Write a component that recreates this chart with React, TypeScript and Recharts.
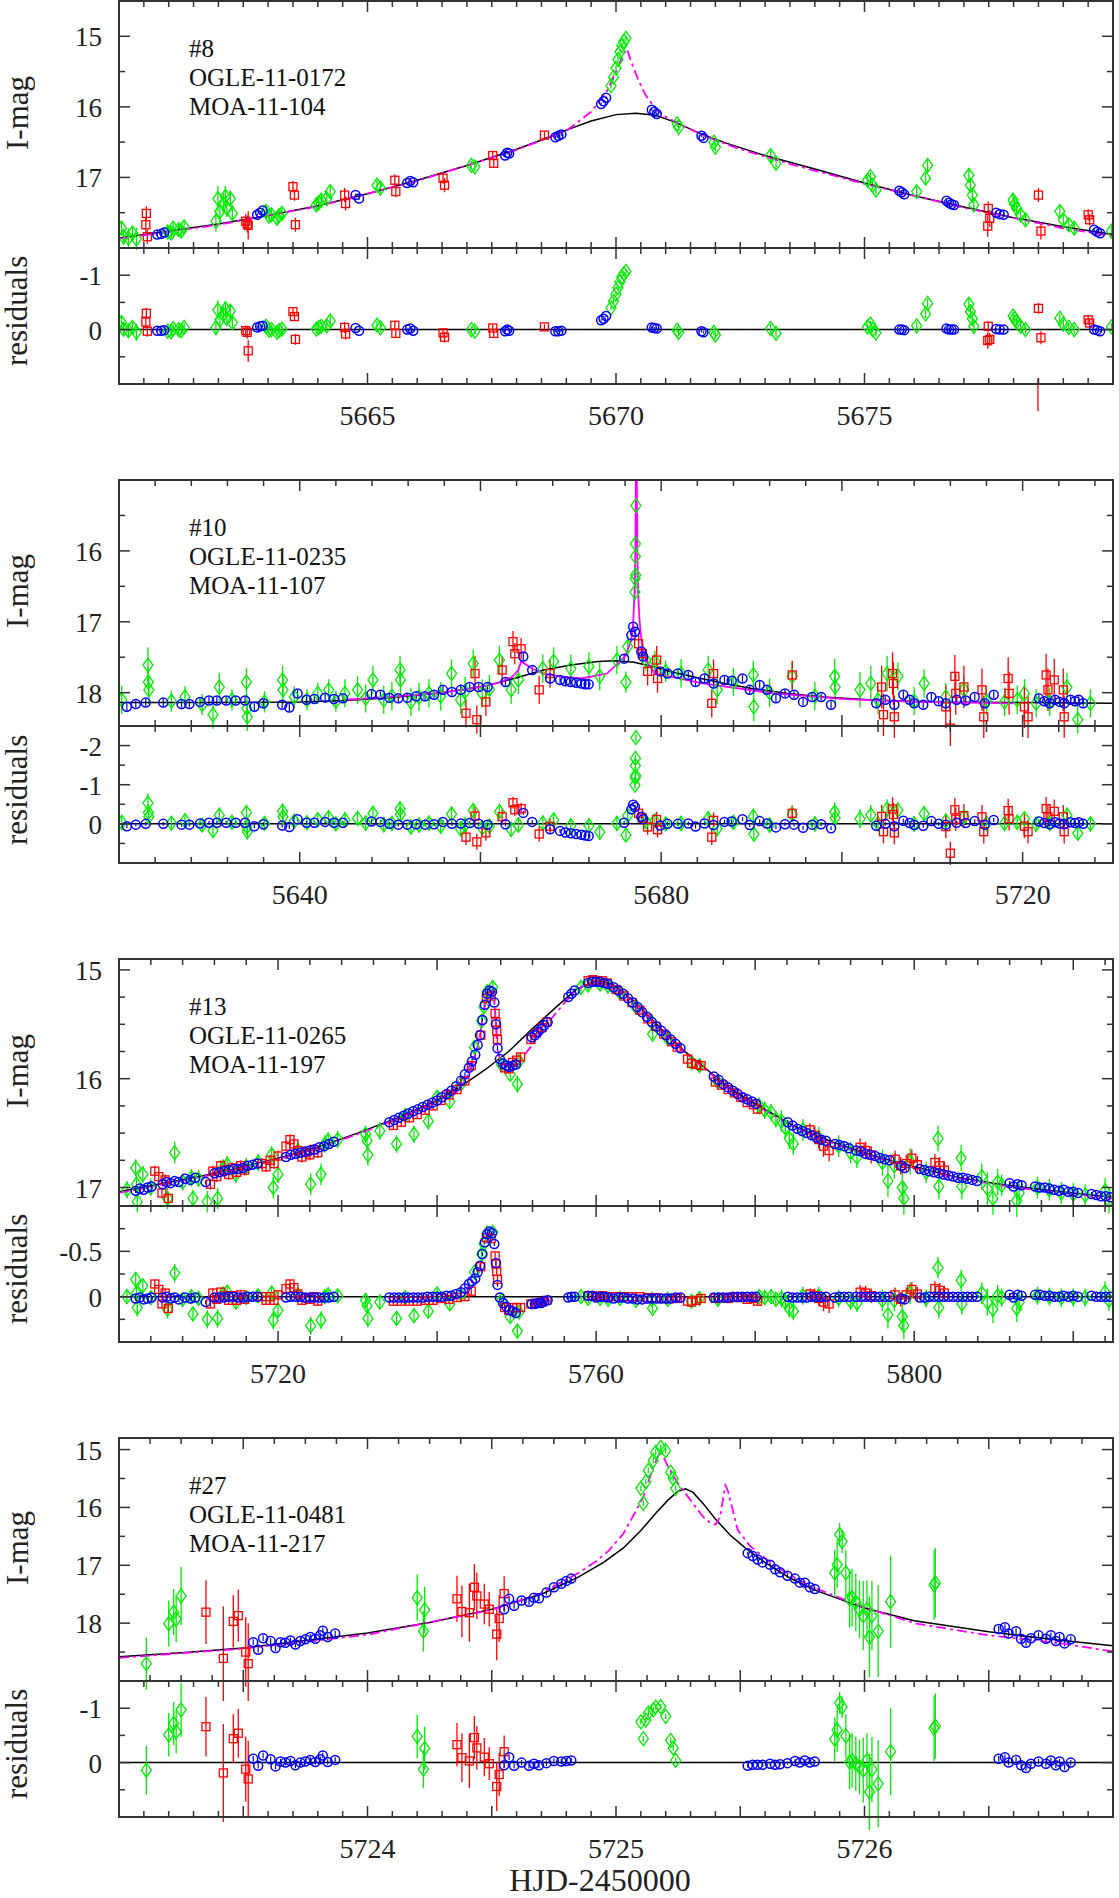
import React from "react";
import {
  ComposedChart,
  Scatter,
  Line,
  XAxis,
  YAxis,
  ErrorBar,
  ReferenceLine,
} from "recharts";

// rows: [HJD-2450000, I mag, residual, error]
type Row = [number, number, number, number];
// model curve: [HJD-2450000, I mag]
type Pt = [number, number];

// ---------- #8 ----------
const P1_MOA: Row[] = [
  [5660.05, 17.72, -0.13, 0.1], [5660.09, 17.84, -0.01, 0.12], [5660.19, 17.86, 0.02, 0.14],
  [5660.27, 17.79, -0.04, 0.1], [5660.35, 17.87, 0.05, 0.16], [5660.98, 17.77, 0.03, 0.08],
  [5661.05, 17.79, 0.04, 0.08], [5661.09, 17.72, -0.02, 0.08], [5661.2, 17.74, 0.0, 0.08],
  [5661.25, 17.76, 0.02, 0.08], [5661.31, 17.7, -0.04, 0.08], [5661.95, 17.62, -0.04, 0.15],
  [5661.99, 17.3, -0.36, 0.18], [5662.03, 17.48, -0.18, 0.15], [5662.1, 17.37, -0.28, 0.15],
  [5662.14, 17.27, -0.38, 0.15], [5662.17, 17.44, -0.2, 0.12], [5662.24, 17.3, -0.34, 0.12],
  [5662.28, 17.51, -0.13, 0.12], [5662.96, 17.48, -0.06, 0.08], [5663.02, 17.55, 0.01, 0.08],
  [5663.07, 17.53, 0.0, 0.08], [5663.18, 17.58, 0.05, 0.08], [5663.22, 17.54, 0.02, 0.08],
  [5663.28, 17.51, -0.01, 0.08], [5663.97, 17.39, -0.01, 0.08], [5664.02, 17.36, -0.04, 0.08],
  [5664.07, 17.32, -0.06, 0.08], [5664.18, 17.3, -0.07, 0.1], [5664.25, 17.2, -0.16, 0.1],
  [5665.19, 17.11, -0.08, 0.08], [5665.26, 17.15, -0.03, 0.08], [5667.09, 16.83, 0.0, 0.06],
  [5667.16, 16.85, 0.03, 0.06], [5669.9, 15.7, -0.4, 0.04], [5669.95, 15.58, -0.52, 0.04],
  [5670.0, 15.45, -0.65, 0.04], [5670.04, 15.33, -0.77, 0.04], [5670.08, 15.22, -0.88, 0.04],
  [5670.12, 15.13, -0.97, 0.04], [5670.16, 15.07, -1.03, 0.04], [5670.2, 15.03, -1.07, 0.04],
  [5671.23, 16.24, 0.01, 0.05], [5671.26, 16.29, 0.05, 0.05], [5671.97, 16.5, 0.05, 0.06],
  [5672.0, 16.57, 0.1, 0.06], [5673.11, 16.69, -0.02, 0.08], [5673.22, 16.8, 0.07, 0.08],
  [5675.06, 17.04, -0.05, 0.06], [5675.12, 16.99, -0.1, 0.06], [5675.16, 17.11, 0.0, 0.06],
  [5675.23, 17.18, 0.06, 0.06], [5676.05, 17.2, -0.07, 0.07], [5676.23, 17.01, -0.29, 0.08],
  [5676.27, 16.83, -0.48, 0.08], [5677.1, 16.97, -0.47, 0.1], [5677.13, 17.11, -0.33, 0.1],
  [5677.17, 17.25, -0.2, 0.1], [5677.2, 17.39, -0.06, 0.1], [5677.99, 17.32, -0.25, 0.08],
  [5678.02, 17.38, -0.2, 0.08], [5678.06, 17.44, -0.14, 0.08], [5678.14, 17.53, -0.06, 0.08],
  [5678.24, 17.6, 0.0, 0.08], [5678.93, 17.48, -0.21, 0.08], [5679.0, 17.6, -0.1, 0.08],
  [5679.11, 17.67, -0.04, 0.08], [5679.22, 17.72, 0.0, 0.08], [5679.97, 17.76, -0.05, 0.08],
];
const P1_OGLE: Row[] = [
  [5660.55, 17.51, -0.3, 0.1], [5660.54, 17.67, -0.14, 0.1], [5660.57, 17.84, 0.03, 0.1],
  [5662.55, 17.62, 0.02, 0.1], [5662.58, 17.66, 0.05, 0.12], [5662.6, 17.68, 0.39, 0.2],
  [5663.5, 17.13, -0.33, 0.08], [5663.53, 17.25, -0.24, 0.08], [5663.55, 17.67, 0.18, 0.1],
  [5664.54, 17.25, -0.04, 0.1], [5664.56, 17.37, 0.08, 0.1], [5665.55, 17.04, -0.08, 0.08],
  [5665.57, 17.2, 0.07, 0.08], [5666.52, 17.01, 0.06, 0.08], [5666.55, 17.11, 0.14, 0.1],
  [5667.52, 16.69, -0.03, 0.06], [5667.54, 16.8, 0.07, 0.06], [5668.56, 16.4, -0.05, 0.05],
  [5677.49, 17.44, -0.06, 0.1], [5677.52, 17.58, 0.18, 0.12], [5677.48, 17.69, 0.2, 0.15],
  [5678.5, 17.25, -0.39, 0.1], [5678.55, 17.76, 0.15, 0.12], [5678.49, 18.8, 1.2, 0.3],
  [5679.5, 17.53, -0.18, 0.08], [5679.53, 17.6, -0.12, 0.08],
];
const P1_BLUE: Row[] = [
  [5660.77, 17.81, 0.02, 0.02], [5660.85, 17.8, 0.02, 0.02], [5660.91, 17.78, 0.01, 0.02],
  [5662.78, 17.53, -0.04, 0.02], [5662.84, 17.5, -0.06, 0.02], [5662.89, 17.47, -0.07, 0.02],
  [5664.76, 17.25, -0.03, 0.02], [5664.83, 17.3, 0.02, 0.02], [5665.8, 17.08, 0.0, 0.02],
  [5665.86, 17.05, -0.02, 0.02], [5665.92, 17.07, 0.02, 0.02], [5667.77, 16.69, 0.03, 0.02],
  [5667.81, 16.65, 0.0, 0.02], [5667.85, 16.66, 0.02, 0.02], [5668.78, 16.43, 0.03, 0.02],
  [5668.84, 16.41, 0.03, 0.02], [5668.9, 16.39, 0.02, 0.02], [5669.7, 15.96, -0.17, 0.02],
  [5669.75, 15.92, -0.2, 0.02], [5669.8, 15.87, -0.25, 0.02], [5670.72, 16.04, -0.04, 0.02],
  [5670.77, 16.07, -0.03, 0.02], [5670.82, 16.1, -0.02, 0.02], [5671.72, 16.41, 0.03, 0.02],
  [5671.76, 16.44, 0.05, 0.02], [5675.7, 17.19, 0.0, 0.02], [5675.75, 17.21, 0.0, 0.02],
  [5675.8, 17.24, 0.01, 0.02], [5676.65, 17.33, -0.02, 0.02], [5676.7, 17.36, 0.0, 0.02],
  [5676.75, 17.38, 0.0, 0.02], [5676.8, 17.39, 0.0, 0.02], [5677.65, 17.5, -0.01, 0.02],
  [5677.72, 17.52, 0.0, 0.02], [5677.8, 17.53, 0.0, 0.02], [5679.62, 17.74, 0.0, 0.02],
  [5679.68, 17.77, 0.01, 0.02], [5679.74, 17.79, 0.03, 0.02],
];
const P1_SINGLE: Pt[] = [
  [5660, 17.86], [5661, 17.76], [5662, 17.66], [5663, 17.54], [5664, 17.4], [5665, 17.23],
  [5666, 17.04], [5667, 16.83], [5668, 16.6], [5668.5, 16.47], [5669, 16.33], [5669.5, 16.2],
  [5670, 16.11], [5670.4, 16.09], [5670.8, 16.12], [5671.2, 16.22], [5671.7, 16.38],
  [5672.2, 16.51], [5673, 16.69], [5674, 16.88], [5675, 17.08], [5676, 17.26], [5677, 17.42],
  [5678, 17.57], [5679, 17.7], [5680, 17.81],
];
const P1_BINARY: Pt[] = [
  [5660, 17.87], [5662, 17.67], [5664, 17.41], [5666, 17.05], [5668, 16.61], [5669, 16.34],
  [5669.5, 16.07], [5669.8, 15.8], [5670, 15.5], [5670.15, 15.25], [5670.22, 15.18],
  [5670.3, 15.35], [5670.45, 15.62], [5670.6, 15.84], [5670.8, 16.03], [5671, 16.14],
  [5671.3, 16.25], [5671.8, 16.42], [5672.5, 16.6], [5673.5, 16.81], [5675, 17.09],
  [5677, 17.43], [5679, 17.72], [5680, 17.83],
];

// ---------- #10 ----------
const P2_MOA: Row[] = [
  [5620.3, 18.1, -0.04, 0.2], [5623.2, 17.61, -0.53, 0.25], [5623.25, 17.85, -0.29, 0.2],
  [5623.3, 17.96, -0.18, 0.2], [5625.8, 18.12, -0.02, 0.15], [5627.3, 18.06, -0.08, 0.15],
  [5629.2, 18.17, 0.03, 0.15], [5630.4, 18.31, 0.17, 0.2], [5631.1, 17.92, -0.22, 0.2],
  [5632.5, 18.1, -0.04, 0.15], [5634.1, 17.85, -0.29, 0.2], [5634.15, 18.22, 0.08, 0.2],
  [5634.2, 18.34, 0.2, 0.2], [5636.1, 18.13, -0.01, 0.15], [5638.1, 17.82, -0.32, 0.2],
  [5638.15, 17.96, -0.18, 0.2], [5639.4, 18.06, -0.07, 0.15], [5640.8, 18.1, -0.03, 0.15],
  [5642.0, 18.01, -0.11, 0.15], [5643.2, 17.96, -0.16, 0.15], [5644.0, 18.12, 0.0, 0.15],
  [5645.0, 18.01, -0.1, 0.2], [5646.4, 17.96, -0.14, 0.2], [5647.3, 18.08, -0.02, 0.2],
  [5648.1, 17.82, -0.27, 0.2], [5649.3, 18.1, 0.02, 0.2], [5650.2, 18.05, -0.01, 0.2],
  [5651.1, 17.68, -0.38, 0.2], [5651.15, 17.82, -0.24, 0.2], [5652.3, 18.13, 0.08, 0.2],
  [5653.2, 18.06, 0.03, 0.2], [5654.3, 18.01, -0.02, 0.2], [5655.6, 18.05, 0.06, 0.2],
  [5656.8, 17.73, -0.25, 0.2], [5657.8, 18.1, 0.13, 0.2], [5658.3, 17.98, 0.03, 0.2],
  [5659.2, 17.59, -0.34, 0.2], [5660.2, 18.01, 0.1, 0.2], [5661.0, 17.95, 0.06, 0.2],
  [5662.1, 17.54, -0.31, 0.2], [5663.4, 17.96, 0.14, 0.2], [5664.2, 17.82, 0.03, 0.2],
  [5666.9, 17.66, -0.02, 0.2], [5668.1, 17.56, -0.1, 0.2], [5670.0, 17.66, 0.05, 0.2],
  [5672.0, 17.63, 0.05, 0.2], [5673.2, 17.77, 0.21, 0.2], [5675.1, 17.54, -0.01, 0.2],
  [5676.1, 17.85, 0.29, 0.15], [5676.3, 17.35, -0.21, 0.15], [5677.1, 16.58, -0.99, 0.1],
  [5677.12, 16.39, -1.18, 0.1], [5677.14, 16.08, -1.49, 0.1], [5677.15, 15.9, -1.67, 0.1],
  [5677.17, 16.34, -1.23, 0.1], [5677.2, 15.36, -2.2, 0.1], [5678.3, 17.54, -0.06, 0.15],
  [5679.3, 17.56, -0.08, 0.15], [5680.5, 17.7, 0.0, 0.15], [5682.2, 17.73, -0.01, 0.2],
  [5685.2, 17.68, -0.13, 0.2], [5686.2, 17.96, 0.12, 0.2], [5688.0, 17.85, -0.04, 0.2],
  [5690.2, 17.75, -0.19, 0.2], [5690.25, 18.2, 0.26, 0.2], [5692.0, 18.0, 0.03, 0.2],
  [5694.5, 17.77, -0.24, 0.2], [5697.0, 18.05, 0.0, 0.2], [5699.2, 17.77, -0.3, 0.25],
  [5699.25, 17.92, -0.15, 0.25], [5702.0, 17.96, -0.13, 0.25], [5703.2, 17.87, -0.23, 0.25],
  [5704.0, 18.1, 0.0, 0.2], [5705.0, 17.73, -0.38, 0.25], [5706.2, 17.77, -0.35, 0.2],
  [5708.0, 18.12, 0.0, 0.2], [5709.1, 17.87, -0.26, 0.2], [5711.5, 18.06, -0.07, 0.2],
  [5713.5, 17.96, -0.18, 0.2], [5716.0, 18.12, -0.01, 0.2], [5718.0, 18.13, -0.01, 0.2],
  [5719.4, 18.1, -0.04, 0.2], [5720.2, 18.01, -0.13, 0.2], [5721.5, 18.15, 0.01, 0.2],
  [5723.0, 18.13, -0.01, 0.2], [5724.9, 17.92, -0.22, 0.2], [5726.1, 18.38, 0.24, 0.2],
  [5727.5, 18.15, 0.0, 0.2],
];
const P2_OGLE: Row[] = [
  [5658.4, 18.29, 0.34, 0.2], [5659.4, 17.73, -0.2, 0.25], [5659.6, 18.38, 0.46, 0.2],
  [5660.6, 18.13, 0.23, 0.2], [5662.4, 17.68, -0.18, 0.2], [5663.6, 17.28, -0.54, 0.15],
  [5663.8, 17.45, -0.36, 0.15], [5664.5, 17.38, -0.39, 0.15], [5666.5, 17.96, 0.26, 0.2],
  [5667.7, 17.73, 0.06, 0.2], [5677.5, 17.31, -0.27, 0.15], [5677.9, 17.45, -0.15, 0.15],
  [5678.5, 17.7, 0.08, 0.2], [5679.5, 17.54, -0.11, 0.2], [5679.6, 17.8, 0.15, 0.2],
  [5685.6, 18.15, 0.34, 0.2], [5685.8, 17.73, -0.09, 0.2], [5694.5, 17.75, -0.27, 0.2],
  [5704.4, 17.92, -0.19, 0.3], [5704.6, 18.31, 0.2, 0.3], [5705.6, 17.73, -0.38, 0.3],
  [5705.7, 17.87, -0.24, 0.3], [5705.8, 18.34, 0.23, 0.3], [5711.5, 18.2, 0.07, 0.3],
  [5712.0, 18.5, 0.75, 0.3], [5712.5, 17.77, -0.36, 0.3], [5712.6, 18.01, -0.12, 0.3],
  [5713.5, 17.92, -0.21, 0.3], [5715.5, 17.96, -0.18, 0.3], [5715.7, 18.34, 0.2, 0.3],
  [5718.4, 17.8, -0.34, 0.3], [5718.5, 18.01, -0.13, 0.3], [5720.2, 18.2, 0.06, 0.3],
  [5720.6, 18.34, 0.2, 0.3], [5722.6, 17.75, -0.39, 0.3], [5722.8, 17.96, -0.18, 0.3],
  [5723.5, 17.82, -0.32, 0.3], [5724.5, 17.96, -0.18, 0.3], [5724.6, 18.34, 0.2, 0.3],
];
const P2_BLUE: Row[] = [
  [5620.87, 18.2, 0.06, 0.05], [5621.86, 18.16, 0.02, 0.05], [5622.96, 18.14, 0.0, 0.05],
  [5624.9, 18.14, 0.0, 0.05], [5626.92, 18.16, 0.02, 0.05], [5627.79, 18.16, 0.02, 0.05],
  [5628.97, 18.13, -0.01, 0.05], [5629.96, 18.11, -0.03, 0.05], [5630.83, 18.11, -0.03, 0.05],
  [5631.86, 18.11, -0.03, 0.05], [5632.92, 18.11, -0.03, 0.05], [5633.95, 18.11, -0.03, 0.05],
  [5634.98, 18.2, 0.06, 0.05], [5635.97, 18.15, 0.01, 0.05], [5638.06, 18.17, 0.04, 0.05],
  [5638.85, 18.21, 0.08, 0.05], [5639.76, 18.01, -0.12, 0.05], [5640.75, 18.1, -0.03, 0.05],
  [5641.62, 18.09, -0.03, 0.05], [5642.81, 18.07, -0.05, 0.05], [5643.79, 18.09, -0.03, 0.05],
  [5644.78, 18.08, -0.03, 0.05], [5647.94, 18.02, -0.06, 0.05], [5648.93, 18.03, -0.05, 0.05],
  [5649.92, 18.07, 0.0, 0.05], [5650.91, 18.08, 0.02, 0.05], [5651.9, 18.07, 0.02, 0.05],
  [5652.89, 18.05, 0.01, 0.05], [5653.87, 18.05, 0.02, 0.05], [5654.86, 18.03, 0.01, 0.05],
  [5655.85, 17.96, -0.05, 0.05], [5656.84, 17.99, 0.0, 0.05], [5657.83, 17.96, -0.01, 0.05],
  [5658.81, 17.92, -0.02, 0.05], [5659.8, 17.92, 0.0, 0.05], [5660.79, 17.92, 0.02, 0.05],
  [5662.77, 17.85, 0.01, 0.05], [5664.74, 17.49, -0.28, 0.05], [5665.73, 17.68, -0.05, 0.05],
  [5667.71, 17.8, 0.14, 0.05], [5668.81, 17.82, 0.18, 0.05], [5669.4, 17.84, 0.22, 0.05],
  [5670.0, 17.85, 0.24, 0.05], [5670.6, 17.86, 0.26, 0.05], [5671.18, 17.87, 0.28, 0.05],
  [5671.6, 17.88, 0.3, 0.05], [5671.97, 17.88, 0.31, 0.05], [5675.9, 17.52, -0.03, 0.05],
  [5676.7, 17.19, -0.37, 0.05], [5676.9, 17.07, -0.49, 0.05], [5677.1, 17.14, -0.43, 0.05],
  [5677.8, 17.42, -0.18, 0.05], [5678.0, 17.49, -0.12, 0.05], [5679.9, 17.7, 0.04, 0.05],
  [5680.7, 17.73, 0.0, 0.05], [5681.85, 17.73, 0.0, 0.05], [5683.0, 17.75, -0.01, 0.05],
  [5683.8, 17.85, 0.07, 0.05], [5684.8, 17.8, -0.01, 0.05], [5685.8, 17.87, 0.03, 0.05],
  [5687.0, 17.82, -0.05, 0.05], [5687.8, 17.83, -0.06, 0.05], [5689.0, 17.8, -0.12, 0.05],
  [5689.8, 17.96, 0.03, 0.05], [5690.9, 17.89, -0.07, 0.05], [5691.7, 17.96, -0.01, 0.05],
  [5692.7, 18.08, 0.09, 0.05], [5693.7, 18.01, 0.01, 0.05], [5694.7, 18.03, 0.02, 0.05],
  [5695.7, 18.13, 0.1, 0.05], [5696.7, 18.06, 0.02, 0.05], [5697.7, 18.06, 0.01, 0.05],
  [5698.8, 18.17, 0.11, 0.05], [5703.8, 18.15, 0.05, 0.05], [5704.8, 18.1, 0.0, 0.05],
  [5705.8, 18.17, 0.06, 0.05], [5706.8, 18.03, -0.08, 0.05], [5707.5, 18.1, -0.02, 0.05],
  [5708.0, 18.15, 0.03, 0.05], [5709.0, 18.17, 0.05, 0.05], [5709.9, 18.06, -0.07, 0.05],
  [5710.7, 18.12, 0.0, 0.05], [5711.5, 18.15, 0.02, 0.05], [5712.7, 18.1, -0.03, 0.05],
  [5713.7, 18.11, -0.02, 0.05], [5714.7, 18.06, -0.07, 0.05], [5715.8, 18.15, 0.02, 0.05],
  [5716.8, 18.03, -0.1, 0.05], [5721.8, 18.08, -0.06, 0.05], [5722.4, 18.12, -0.02, 0.05],
  [5723.0, 18.15, 0.01, 0.05], [5723.6, 18.1, -0.04, 0.05], [5724.1, 18.13, -0.01, 0.05],
  [5724.6, 18.15, 0.01, 0.05], [5725.3, 18.1, -0.04, 0.05], [5725.8, 18.12, -0.02, 0.05],
  [5726.2, 18.1, -0.04, 0.05], [5726.7, 18.15, 0.0, 0.05],
];
const P2_SINGLE: Pt[] = [
  [5620, 18.14], [5630, 18.14], [5640, 18.13], [5645, 18.11], [5650, 18.07], [5655, 18.01],
  [5658, 17.96], [5661, 17.89], [5664, 17.79], [5667, 17.68], [5670, 17.61], [5673, 17.56],
  [5675, 17.55], [5677, 17.57], [5679, 17.63], [5681, 17.7], [5684, 17.79], [5687, 17.87],
  [5690, 17.94], [5694, 18.01], [5698, 18.06], [5703, 18.1], [5710, 18.13], [5720, 18.14],
  [5730, 18.15],
];
const P2_BINARY: Pt[] = [
  [5645, 18.1], [5650, 18.06], [5655, 18.01], [5658, 17.96], [5660, 17.92], [5662, 17.86],
  [5663.5, 17.78], [5664.2, 17.68], [5664.5, 17.56], [5665.7, 17.66], [5667, 17.73],
  [5668.8, 17.77], [5671.2, 17.8], [5674, 17.73], [5676, 17.49], [5676.7, 17.26],
  [5676.9, 17.02], [5677.05, 16.6], [5677.15, 16.0], [5677.22, 14.5], [5677.28, 14.5],
  [5677.36, 16.0], [5677.45, 16.6], [5677.6, 16.97], [5677.75, 17.18], [5678.0, 17.4],
  [5678.3, 17.54], [5679.3, 17.73], [5684.6, 17.87], [5692.5, 18.01], [5700.4, 18.09],
  [5708.3, 18.13], [5719, 18.15],
];

// ---------- #13 ----------
const P3_MOA: Row[] = [
  [5701.0, 17.02, 0.0, 0.08], [5702.1, 16.82, -0.19, 0.08], [5702.2, 16.97, -0.04, 0.08],
  [5702.3, 17.13, 0.12, 0.1], [5703.0, 16.88, -0.12, 0.08], [5704.0, 17.0, 0.01, 0.08],
  [5706.1, 17.1, 0.14, 0.1], [5707.0, 16.68, -0.26, 0.1], [5708.0, 16.95, 0.03, 0.08],
  [5709.1, 16.91, 0.0, 0.08], [5709.3, 17.1, 0.19, 0.08], [5710.0, 16.92, 0.02, 0.08],
  [5711.1, 17.13, 0.25, 0.1], [5712.4, 17.1, 0.24, 0.1], [5713.1, 16.82, -0.03, 0.08],
  [5713.6, 16.79, -0.05, 0.08], [5714.7, 16.88, 0.06, 0.08], [5716.0, 16.81, 0.01, 0.08],
  [5717.5, 16.77, -0.01, 0.08], [5719.2, 16.7, -0.04, 0.08], [5719.4, 17.0, 0.26, 0.1],
  [5720.0, 16.88, 0.15, 0.08], [5722.5, 16.66, -0.02, 0.08], [5724.1, 16.97, 0.32, 0.1],
  [5725.4, 16.88, 0.26, 0.1], [5725.9, 16.6, 0.0, 0.08], [5726.3, 16.57, -0.02, 0.08],
  [5727.5, 16.56, -0.01, 0.08], [5731.0, 16.51, 0.04, 0.08], [5731.2, 16.57, 0.1, 0.08],
  [5731.3, 16.7, 0.24, 0.1], [5732.8, 16.48, 0.06, 0.08], [5734.9, 16.6, 0.24, 0.08],
  [5736.0, 16.34, 0.01, 0.06], [5737.1, 16.51, 0.21, 0.08], [5738.9, 16.39, 0.16, 0.08],
  [5740.0, 16.17, -0.03, 0.06], [5741.6, 16.21, 0.08, 0.06], [5743.0, 16.05, -0.02, 0.06],
  [5744.7, 15.71, -0.27, 0.05], [5745.6, 15.47, -0.47, 0.05], [5745.9, 15.34, -0.58, 0.05],
  [5746.3, 15.2, -0.7, 0.05], [5747.0, 15.16, -0.71, 0.05], [5748.1, 15.87, 0.04, 0.05],
  [5749.2, 15.96, 0.22, 0.06], [5750.1, 16.05, 0.38, 0.08], [5750.3, 15.84, 0.17, 0.06],
  [5758.1, 15.16, 0.0, 0.05], [5759.0, 15.14, 0.02, 0.05], [5760.5, 15.13, 0.02, 0.05],
  [5761.5, 15.15, 0.03, 0.05], [5763.0, 15.21, 0.02, 0.05], [5765.0, 15.34, 0.04, 0.05],
  [5767.0, 15.48, 0.03, 0.05], [5767.1, 15.59, 0.13, 0.05], [5769.0, 15.63, 0.03, 0.05],
  [5772.0, 15.85, 0.05, 0.06], [5773.0, 15.88, 0.02, 0.06], [5775.3, 16.03, 0.03, 0.06],
  [5780.5, 16.25, 0.0, 0.08], [5781.2, 16.29, 0.01, 0.08], [5782.0, 16.31, 0.0, 0.08],
  [5782.6, 16.37, 0.03, 0.08], [5783.3, 16.39, 0.02, 0.1], [5783.8, 16.45, 0.06, 0.1],
  [5784.3, 16.55, 0.13, 0.1], [5784.8, 16.6, 0.16, 0.1], [5786.0, 16.47, -0.01, 0.1],
  [5788.0, 16.54, -0.01, 0.1], [5790.5, 16.62, 0.02, 0.1], [5792.0, 16.68, 0.05, 0.1],
  [5792.8, 16.72, 0.07, 0.1], [5796.0, 16.77, 0.04, 0.12], [5796.7, 16.94, 0.2, 0.15],
  [5797.5, 16.8, 0.04, 0.12], [5798.5, 17.0, 0.22, 0.15], [5798.7, 17.1, 0.32, 0.15],
  [5799.5, 16.76, -0.04, 0.12], [5801.5, 16.86, 0.02, 0.1], [5803.0, 16.55, -0.32, 0.12],
  [5803.1, 16.99, 0.12, 0.12], [5805.9, 16.73, -0.18, 0.12], [5806.0, 16.99, 0.08, 0.12],
  [5808.5, 16.9, -0.04, 0.12], [5809.2, 17.01, 0.06, 0.15], [5809.9, 17.1, 0.14, 0.15],
  [5810.5, 16.95, -0.01, 0.12], [5811.0, 16.98, 0.01, 0.1], [5812.9, 17.12, 0.13, 0.15],
  [5813.2, 17.05, 0.06, 0.12], [5815.5, 17.0, -0.01, 0.1], [5817.0, 17.02, 0.0, 0.1],
  [5818.5, 17.05, 0.01, 0.1], [5820.0, 17.06, 0.01, 0.1], [5821.5, 17.07, 0.01, 0.1],
  [5824.0, 17.03, -0.05, 0.12], [5824.5, 17.12, 0.04, 0.12],
];
const P3_OGLE: Row[] = [
  [5704.5, 16.85, -0.14, 0.05], [5705.0, 16.9, -0.08, 0.05], [5705.4, 17.05, 0.08, 0.05],
  [5705.8, 16.93, -0.04, 0.05], [5706.2, 17.1, 0.13, 0.05], [5711.5, 16.97, 0.08, 0.05],
  [5711.8, 16.85, -0.04, 0.05], [5712.3, 16.9, 0.03, 0.05], [5712.8, 16.8, -0.05, 0.05],
  [5713.3, 16.84, -0.01, 0.05], [5713.8, 16.88, 0.04, 0.05], [5714.3, 16.82, -0.01, 0.05],
  [5714.8, 16.86, 0.04, 0.05], [5715.3, 16.8, -0.02, 0.05], [5715.8, 16.84, 0.03, 0.05],
  [5718.0, 16.78, 0.0, 0.05], [5718.5, 16.81, 0.04, 0.05], [5719.0, 16.75, 0.0, 0.05],
  [5719.5, 16.78, 0.04, 0.05], [5720.0, 16.71, -0.02, 0.05], [5721.0, 16.62, -0.09, 0.05],
  [5721.5, 16.56, -0.14, 0.05], [5722.0, 16.6, -0.1, 0.05], [5722.5, 16.66, -0.03, 0.05],
  [5723.0, 16.72, 0.04, 0.05], [5723.5, 16.68, 0.01, 0.05], [5724.0, 16.7, 0.03, 0.05],
  [5724.5, 16.65, 0.0, 0.05], [5725.0, 16.68, 0.05, 0.05], [5734.5, 16.43, 0.05, 0.04],
  [5735.5, 16.4, 0.05, 0.04], [5736.5, 16.36, 0.05, 0.04], [5737.5, 16.33, 0.05, 0.04],
  [5738.5, 16.29, 0.04, 0.04], [5739.5, 16.25, 0.04, 0.04], [5740.5, 16.2, 0.02, 0.04],
  [5741.5, 16.15, 0.03, 0.04], [5742.5, 16.1, 0.01, 0.04], [5743.5, 16.02, 0.0, 0.04],
  [5744.3, 15.88, -0.06, 0.04], [5745.5, 15.6, -0.33, 0.04], [5746.2, 15.26, -0.65, 0.04],
  [5746.8, 15.24, -0.64, 0.04], [5747.3, 15.4, -0.45, 0.04], [5747.4, 15.48, -0.36, 0.04],
  [5747.5, 15.56, -0.28, 0.04], [5747.6, 15.64, -0.19, 0.04], [5748.5, 15.9, 0.12, 0.04],
  [5749.0, 15.91, 0.15, 0.04], [5749.5, 15.85, 0.12, 0.04], [5750.0, 15.83, 0.12, 0.04],
  [5750.5, 15.8, 0.12, 0.04], [5751.8, 15.64, 0.08, 0.04], [5752.5, 15.58, 0.07, 0.04],
  [5753.2, 15.53, 0.06, 0.04], [5753.8, 15.48, 0.04, 0.04], [5759.0, 15.1, -0.01, 0.03],
  [5759.6, 15.09, -0.01, 0.03], [5760.2, 15.1, 0.0, 0.03], [5760.8, 15.1, -0.01, 0.03],
  [5761.4, 15.12, 0.0, 0.03], [5762.5, 15.18, 0.0, 0.03], [5763.5, 15.24, 0.0, 0.03],
  [5764.5, 15.3, 0.0, 0.03], [5765.5, 15.37, 0.0, 0.03], [5766.5, 15.45, 0.01, 0.03],
  [5767.5, 15.52, 0.01, 0.03], [5768.5, 15.59, 0.02, 0.03], [5769.5, 15.66, 0.02, 0.03],
  [5770.2, 15.71, 0.02, 0.03], [5771.5, 15.82, 0.05, 0.04], [5772.0, 15.86, 0.06, 0.04],
  [5772.6, 15.87, 0.04, 0.04], [5773.2, 15.88, 0.02, 0.04], [5775.0, 16.03, 0.02, 0.04],
  [5775.8, 16.06, 0.01, 0.04], [5776.6, 16.1, 0.02, 0.04], [5777.4, 16.13, 0.01, 0.04],
  [5778.2, 16.17, 0.01, 0.04], [5779.0, 16.22, 0.03, 0.04], [5779.8, 16.24, 0.02, 0.04],
  [5780.3, 16.28, 0.05, 0.04], [5786.9, 16.47, -0.03, 0.06], [5787.5, 16.52, -0.01, 0.08],
  [5788.0, 16.56, 0.02, 0.08], [5788.6, 16.62, 0.06, 0.1], [5789.3, 16.66, 0.08, 0.1],
  [5793.2, 16.63, -0.05, 0.08], [5793.9, 16.66, -0.04, 0.08], [5794.6, 16.7, -0.01, 0.08],
  [5797.6, 16.74, -0.02, 0.08], [5798.3, 16.8, 0.03, 0.08], [5799.0, 16.78, -0.02, 0.08],
  [5799.7, 16.73, -0.08, 0.08], [5800.4, 16.79, -0.03, 0.08], [5802.6, 16.77, -0.09, 0.08],
  [5803.2, 16.8, -0.07, 0.08], [5803.8, 16.84, -0.04, 0.08],
];
const P3_BLUE: Row[] = [
  [5702.1, 17.03, 0.02, 0.02], [5702.6, 17.01, 0.01, 0.02], [5703.1, 17.02, 0.03, 0.02],
  [5703.6, 17.0, 0.02, 0.02], [5704.1, 16.99, 0.01, 0.02], [5705.5, 16.97, 0.01, 0.02],
  [5706.0, 16.95, 0.0, 0.02], [5706.5, 16.96, 0.02, 0.02], [5707.0, 16.94, 0.01, 0.02],
  [5707.5, 16.95, 0.03, 0.02], [5708.3, 16.92, 0.01, 0.02], [5709.0, 16.93, 0.02, 0.02],
  [5709.6, 16.91, 0.01, 0.02], [5710.9, 16.95, 0.06, 0.02], [5712.0, 16.87, 0.01, 0.02],
  [5712.6, 16.86, 0.01, 0.02], [5713.2, 16.85, 0.01, 0.02], [5713.8, 16.84, 0.0, 0.02],
  [5714.4, 16.83, 0.0, 0.02], [5715.0, 16.83, 0.01, 0.02], [5715.6, 16.82, 0.01, 0.02],
  [5716.2, 16.8, 0.0, 0.02], [5716.8, 16.79, 0.0, 0.02], [5717.4, 16.78, 0.0, 0.02],
  [5721.0, 16.72, 0.01, 0.02], [5721.6, 16.7, 0.0, 0.02], [5722.2, 16.69, 0.0, 0.02],
  [5722.8, 16.68, 0.0, 0.02], [5723.4, 16.67, 0.01, 0.02], [5724.0, 16.66, 0.01, 0.02],
  [5724.6, 16.65, 0.01, 0.02], [5725.2, 16.63, 0.01, 0.02], [5725.8, 16.62, 0.01, 0.02],
  [5726.4, 16.6, 0.01, 0.02], [5727.0, 16.58, 0.0, 0.02], [5734.0, 16.4, 0.01, 0.02],
  [5734.6, 16.38, 0.01, 0.02], [5735.2, 16.36, 0.01, 0.02], [5735.8, 16.34, 0.01, 0.02],
  [5736.4, 16.32, 0.01, 0.02], [5737.0, 16.3, 0.01, 0.02], [5737.6, 16.28, 0.01, 0.02],
  [5738.2, 16.26, 0.01, 0.02], [5738.8, 16.24, 0.0, 0.02], [5739.4, 16.22, 0.0, 0.02],
  [5740.0, 16.2, 0.0, 0.02], [5740.6, 16.17, 0.0, 0.02], [5741.2, 16.14, -0.01, 0.02],
  [5741.8, 16.11, -0.01, 0.02], [5742.4, 16.07, -0.03, 0.02], [5743.0, 16.02, -0.05, 0.02],
  [5743.5, 15.96, -0.09, 0.02], [5744.0, 15.9, -0.14, 0.02], [5744.4, 15.84, -0.17, 0.02],
  [5744.8, 15.78, -0.2, 0.02], [5745.1, 15.69, -0.27, 0.02], [5745.4, 15.6, -0.34, 0.02],
  [5745.7, 15.46, -0.47, 0.02], [5746.0, 15.32, -0.6, 0.02], [5746.3, 15.22, -0.69, 0.02],
  [5746.6, 15.19, -0.72, 0.02], [5746.9, 15.2, -0.7, 0.02], [5747.2, 15.3, -0.58, 0.02],
  [5747.4, 15.5, -0.37, 0.02], [5747.6, 15.72, -0.13, 0.02], [5747.9, 15.82, 0.01, 0.02],
  [5748.3, 15.86, 0.07, 0.02], [5748.7, 15.88, 0.11, 0.02], [5749.1, 15.89, 0.15, 0.02],
  [5749.5, 15.88, 0.16, 0.02], [5749.9, 15.87, 0.18, 0.02], [5751.9, 15.62, 0.08, 0.02],
  [5752.3, 15.6, 0.08, 0.02], [5752.7, 15.57, 0.07, 0.02], [5753.1, 15.54, 0.07, 0.02],
  [5753.5, 15.51, 0.05, 0.02], [5753.9, 15.48, 0.04, 0.02], [5756.5, 15.25, 0.01, 0.02],
  [5756.9, 15.22, 0.0, 0.02], [5757.3, 15.19, 0.0, 0.02], [5759.0, 15.12, -0.01, 0.02],
  [5759.5, 15.11, -0.01, 0.02], [5760.0, 15.11, 0.01, 0.02], [5760.5, 15.11, 0.0, 0.02],
  [5761.0, 15.12, 0.0, 0.02], [5761.5, 15.13, 0.01, 0.02], [5762.2, 15.16, 0.02, 0.02],
  [5762.8, 15.19, 0.01, 0.02], [5763.4, 15.22, 0.01, 0.02], [5764.0, 15.26, 0.02, 0.02],
  [5764.6, 15.3, 0.02, 0.02], [5765.2, 15.34, 0.03, 0.02], [5765.8, 15.39, 0.03, 0.02],
  [5766.4, 15.43, 0.02, 0.02], [5767.0, 15.48, 0.02, 0.02], [5767.6, 15.52, 0.02, 0.02],
  [5768.2, 15.56, 0.02, 0.02], [5768.8, 15.6, 0.02, 0.02], [5769.4, 15.64, 0.02, 0.02],
  [5770.0, 15.68, 0.01, 0.02], [5770.6, 15.72, 0.01, 0.02], [5774.8, 15.98, 0.01, 0.02],
  [5775.4, 16.01, 0.01, 0.02], [5776.0, 16.05, 0.01, 0.02], [5776.6, 16.08, 0.01, 0.02],
  [5777.2, 16.11, 0.0, 0.02], [5777.8, 16.14, 0.0, 0.02], [5778.4, 16.17, 0.0, 0.02],
  [5779.0, 16.19, 0.0, 0.02], [5779.6, 16.21, 0.0, 0.02], [5780.1, 16.23, 0.0, 0.02],
  [5784.1, 16.4, 0.0, 0.02], [5784.7, 16.43, 0.01, 0.02], [5785.3, 16.46, 0.01, 0.02],
  [5785.9, 16.48, 0.01, 0.02], [5786.5, 16.5, 0.01, 0.02], [5787.1, 16.52, 0.0, 0.02],
  [5787.7, 16.54, 0.0, 0.02], [5788.3, 16.56, 0.0, 0.02], [5788.9, 16.57, 0.0, 0.02],
  [5790.0, 16.6, 0.01, 0.02], [5790.6, 16.61, 0.0, 0.02], [5791.2, 16.62, 0.0, 0.02],
  [5791.8, 16.64, 0.0, 0.02], [5792.7, 16.66, 0.0, 0.02], [5793.3, 16.67, 0.0, 0.02],
  [5793.9, 16.69, 0.0, 0.02], [5794.5, 16.7, 0.0, 0.02], [5795.1, 16.71, 0.0, 0.02],
  [5795.7, 16.73, 0.0, 0.02], [5796.3, 16.74, 0.0, 0.02], [5796.9, 16.75, 0.0, 0.02],
  [5798.4, 16.8, 0.02, 0.02], [5798.8, 16.82, 0.03, 0.02], [5800.7, 16.83, 0.01, 0.02],
  [5801.3, 16.84, 0.01, 0.02], [5801.9, 16.85, 0.0, 0.02], [5802.5, 16.86, 0.0, 0.02],
  [5803.1, 16.87, 0.0, 0.02], [5803.7, 16.88, 0.0, 0.02], [5804.3, 16.89, 0.0, 0.02],
  [5804.9, 16.9, 0.0, 0.02], [5805.5, 16.91, 0.0, 0.02], [5806.1, 16.91, 0.0, 0.02],
  [5806.7, 16.92, 0.0, 0.02], [5807.3, 16.93, 0.0, 0.02], [5807.9, 16.94, 0.0, 0.02],
  [5812.0, 16.96, -0.02, 0.02], [5812.5, 16.99, 0.01, 0.02], [5813.0, 16.97, -0.02, 0.02],
  [5813.5, 16.98, -0.01, 0.02], [5815.2, 16.99, -0.02, 0.02], [5815.8, 17.0, -0.02, 0.02],
  [5816.4, 17.0, -0.01, 0.02], [5817.0, 17.01, -0.01, 0.02], [5817.6, 17.02, 0.0, 0.02],
  [5818.2, 17.03, 0.0, 0.02], [5818.8, 17.02, -0.01, 0.02], [5819.4, 17.04, 0.0, 0.02],
  [5820.0, 17.04, -0.01, 0.02], [5820.6, 17.05, 0.0, 0.02], [5822.3, 17.06, -0.01, 0.02],
  [5822.9, 17.07, 0.0, 0.02], [5823.5, 17.08, 0.0, 0.02], [5824.1, 17.08, 0.0, 0.02],
  [5824.7, 17.09, 0.0, 0.02],
];
const P3_SINGLE: Pt[] = [
  [5700, 17.04], [5705, 16.97], [5710, 16.9], [5715, 16.82], [5720, 16.73], [5725, 16.63],
  [5730, 16.5], [5735, 16.36], [5740, 16.2], [5743, 16.07], [5746, 15.92], [5749, 15.75],
  [5752, 15.54], [5755, 15.34], [5757.5, 15.18], [5760, 15.1], [5762, 15.13], [5765, 15.3],
  [5768, 15.53], [5771, 15.74], [5774, 15.92], [5777, 16.1], [5780, 16.23], [5785, 16.44],
  [5790, 16.59], [5795, 16.71], [5800, 16.81], [5805, 16.9], [5810, 16.96], [5815, 17.01],
  [5820, 17.05], [5825, 17.09],
];
const P3_BINARY: Pt[] = [
  [5700, 17.05], [5705, 16.98], [5710, 16.91], [5715, 16.83], [5720, 16.74], [5725, 16.64],
  [5730, 16.51], [5735, 16.37], [5740, 16.21], [5742.5, 16.11], [5743.5, 16.02],
  [5744.2, 15.92], [5744.7, 15.81], [5745.1, 15.7], [5745.4, 15.6], [5745.8, 15.41],
  [5746.2, 15.24], [5746.6, 15.18], [5747.0, 15.2], [5747.25, 15.32], [5747.4, 15.5],
  [5747.55, 15.72], [5747.9, 15.82], [5748.5, 15.87], [5749.2, 15.89], [5750.0, 15.86],
  [5751.0, 15.78], [5752.4, 15.65], [5754.0, 15.48], [5755.5, 15.35], [5757.0, 15.22],
  [5758.5, 15.14], [5760, 15.11], [5762, 15.14], [5765, 15.31], [5768, 15.54], [5771, 15.75],
  [5774, 15.93], [5777, 16.11], [5780, 16.24], [5785, 16.45], [5790, 16.6], [5795, 16.72],
  [5800, 16.82], [5805, 16.91], [5810, 16.97], [5815, 17.02], [5820, 17.06], [5825, 17.1],
];

// ---------- #27 ----------
const P4_MOA: Row[] = [
  [5723.11, 18.7, 0.14, 0.45], [5723.2, 18.01, -0.51, 0.4], [5723.22, 17.81, -0.72, 0.4],
  [5723.23, 17.93, -0.57, 0.4], [5723.25, 17.53, -0.97, 0.5], [5724.2, 17.56, -0.48, 0.4],
  [5724.23, 17.77, -0.26, 0.4], [5724.225, 18.14, 0.12, 0.35], [5725.1, 15.67, -0.75, 0.05],
  [5725.11, 15.93, -0.44, 0.05], [5725.12, 15.56, -0.78, 0.05], [5725.13, 15.36, -0.91, 0.05],
  [5725.15, 15.19, -0.97, 0.05], [5725.16, 15.05, -1.02, 0.05], [5725.18, 14.96, -1.03, 0.05],
  [5725.2, 15.02, -0.85, 0.05], [5725.22, 15.39, -0.41, 0.05], [5725.23, 15.5, -0.27, 0.05],
  [5725.24, 15.67, -0.04, 0.05], [5725.88, 17.13, -0.43, 0.4], [5725.89, 16.99, -0.6, 0.4],
  [5725.9, 16.47, -1.1, 0.2], [5725.91, 16.59, -1.02, 0.2], [5725.925, 17.13, -0.49, 0.4],
  [5725.94, 17.58, -0.01, 0.5], [5725.95, 17.56, -0.04, 0.5], [5725.965, 17.64, 0.02, 0.5],
  [5725.98, 17.76, 0.08, 0.5], [5725.995, 17.87, 0.14, 0.6], [5726.01, 17.76, -0.04, 0.5],
  [5726.02, 18.24, 0.54, 0.7], [5726.03, 17.87, 0.13, 0.6], [5726.055, 18.14, 0.39, 0.8],
  [5726.105, 17.63, -0.2, 0.8], [5726.28, 17.34, -0.63, 0.6], [5726.285, 17.3, -0.67, 0.6],
];
const P4_OGLE: Row[] = [
  [5723.35, 17.81, -0.66, 0.55], [5723.42, 18.61, 0.19, 0.9], [5723.46, 17.97, -0.44, 0.45],
  [5723.48, 17.87, -0.54, 0.45], [5723.51, 18.5, 0.12, 0.6], [5723.52, 18.7, 0.3, 0.7],
  [5724.36, 17.58, -0.33, 0.4], [5724.38, 17.8, -0.09, 0.45], [5724.41, 17.82, -0.03, 0.5],
  [5724.43, 17.38, -0.46, 0.4], [5724.44, 17.53, -0.27, 0.4], [5724.47, 17.67, -0.1, 0.35],
  [5724.49, 17.76, 0.02, 0.3], [5724.52, 18.19, 0.44, 0.45], [5724.53, 17.92, 0.22, 0.4],
  [5724.55, 17.49, -0.2, 0.3],
];
const P4_BLUE: Row[] = [
  [5723.54, 18.33, -0.07, 0.05], [5723.56, 18.46, 0.06, 0.05], [5723.58, 18.26, -0.13, 0.05],
  [5723.61, 18.31, -0.06, 0.05], [5723.63, 18.43, 0.07, 0.05], [5723.65, 18.33, -0.02, 0.05],
  [5723.67, 18.34, 0.0, 0.05], [5723.69, 18.3, -0.03, 0.05], [5723.71, 18.37, 0.05, 0.05],
  [5723.73, 18.31, 0.0, 0.05], [5723.75, 18.28, -0.02, 0.05], [5723.77, 18.24, -0.05, 0.05],
  [5723.79, 18.27, -0.01, 0.05], [5723.81, 18.21, -0.06, 0.05], [5723.82, 18.13, -0.13, 0.05],
  [5723.84, 18.24, -0.01, 0.05], [5723.87, 18.18, -0.05, 0.05], [5724.55, 17.76, 0.05, 0.05],
  [5724.57, 17.58, -0.1, 0.05], [5724.59, 17.7, 0.06, 0.05], [5724.62, 17.61, 0.0, 0.05],
  [5724.65, 17.63, 0.06, 0.05], [5724.67, 17.56, 0.02, 0.05], [5724.69, 17.57, 0.05, 0.05],
  [5724.72, 17.47, 0.01, 0.05], [5724.75, 17.38, -0.03, 0.05], [5724.78, 17.32, -0.02, 0.05],
  [5724.8, 17.27, -0.03, 0.05], [5724.82, 17.23, -0.04, 0.05], [5725.53, 16.79, 0.06, 0.03],
  [5725.55, 16.84, 0.04, 0.03], [5725.57, 16.9, 0.04, 0.03], [5725.59, 16.95, 0.04, 0.03],
  [5725.62, 16.99, 0.02, 0.03], [5725.64, 17.07, 0.04, 0.03], [5725.66, 17.12, 0.03, 0.03],
  [5725.69, 17.18, 0.01, 0.03], [5725.72, 17.23, -0.03, 0.03], [5725.74, 17.3, 0.0, 0.03],
  [5725.76, 17.3, -0.04, 0.03], [5725.78, 17.38, 0.0, 0.03], [5725.8, 17.41, -0.02, 0.03],
  [5726.54, 18.1, -0.07, 0.05], [5726.565, 18.07, -0.1, 0.05], [5726.58, 18.18, 0.0, 0.05],
  [5726.61, 18.14, -0.05, 0.05], [5726.63, 18.27, 0.05, 0.05], [5726.65, 18.34, 0.1, 0.05],
  [5726.67, 18.26, 0.02, 0.05], [5726.7, 18.21, -0.02, 0.05], [5726.73, 18.27, 0.02, 0.05],
  [5726.75, 18.21, -0.04, 0.05], [5726.77, 18.31, 0.05, 0.05], [5726.785, 18.24, -0.02, 0.05],
  [5726.805, 18.35, 0.08, 0.05], [5726.83, 18.28, 0.0, 0.05],
];
const P4_SINGLE: Pt[] = [
  [5723.0, 18.58], [5723.25, 18.51], [5723.5, 18.43], [5723.75, 18.3], [5724.0, 18.17],
  [5724.25, 17.99], [5724.5, 17.76], [5724.7, 17.5], [5724.85, 17.2], [5724.95, 16.95],
  [5725.03, 16.7], [5725.1, 16.4], [5725.16, 16.1], [5725.21, 15.87], [5725.25, 15.72],
  [5725.28, 15.68], [5725.31, 15.74], [5725.35, 15.93], [5725.4, 16.2], [5725.46, 16.48],
  [5725.52, 16.7], [5725.6, 16.95], [5725.7, 17.22], [5725.8, 17.43], [5726.0, 17.74],
  [5726.2, 17.96], [5726.5, 18.15], [5726.75, 18.28], [5727.0, 18.39],
];
const P4_BINARY: Pt[] = [
  [5723.0, 18.6], [5723.5, 18.44], [5724.0, 18.2], [5724.5, 17.77], [5724.7, 17.48],
  [5724.85, 17.13], [5724.92, 16.93], [5724.97, 16.75], [5725.03, 16.45], [5725.06, 16.22],
  [5725.11, 15.82], [5725.15, 15.3], [5725.18, 15.02], [5725.21, 15.3], [5725.25, 15.59],
  [5725.31, 15.93], [5725.35, 16.16], [5725.38, 16.27], [5725.4, 16.3], [5725.42, 16.16],
  [5725.43, 15.87], [5725.44, 15.62], [5725.45, 15.71], [5725.47, 16.05], [5725.49, 16.39],
  [5725.54, 16.67], [5725.64, 17.01], [5725.78, 17.36], [5726.0, 17.73], [5726.21, 18.01],
  [5726.5, 18.21], [5726.79, 18.35], [5727.0, 18.49],
];

// tick labels
const P1_X_LABELS = [5665, 5670, 5675];
const P2_X_LABELS = [5640, 5680, 5720];
const P3_X_LABELS = [5720, 5760, 5800];
const P4_X_LABELS = [5724, 5725, 5726];
const P1_Y_LABELS = [15, 16, 17];
const P2_Y_LABELS = [16, 17, 18];
const P3_Y_LABELS = [15, 16, 17];
const P4_Y_LABELS = [15, 16, 17, 18];
const P1_R_LABELS = [-1, 0];
const P2_R_LABELS = [-2, -1, 0];
const P3_R_LABELS = [-0.5, 0];
const P4_R_LABELS = [-1, 0];

const FONT = '"Liberation Serif", "Times New Roman", Times, serif';
const FRAME = "#333";
const INK = "#222";
const RED = "#ff0000";
const GREEN = "#00ee00";
const BLUE = "#0000ff";
const MAGENTA = "#ff00ff";
const W = 1119;
const PLOT_L = 119;
const PLOT_R = 1113;
const PLOT_W = PLOT_R - PLOT_L;
const MAIN_PAD_TOP = 14;
const MAIN_AXIS_H = 20;
const RES_AXIS_H = 60;

const isMult = (v: number, s: number) => Math.abs(v / s - Math.round(v / s)) < 1e-6;
const has = (list: number[], v: number) => list.some((l) => Math.abs(l - v) < 1e-6);

// tick positions strictly inside the domain
const ticksIn = (lo: number, hi: number, step: number) => {
  const out: number[] = [];
  for (let k = Math.ceil(lo / step - 1e-9); k * step < hi - 1e-9; k++) {
    const v = +(k * step).toFixed(4);
    if (v > lo + 1e-9) out.push(v);
  }
  return out;
};

const xTick = (plotH: number, major: number, labels: number[]) => (p: any) => {
  const { x, y, payload } = p;
  const v = Number(payload.value);
  const len = isMult(v, major) ? 11 : 6;
  return (
    <g>
      <line x1={x} x2={x} y1={y} y2={y - len} stroke={FRAME} strokeWidth={1.5} />
      <line x1={x} x2={x} y1={y - plotH} y2={y - plotH + len} stroke={FRAME} strokeWidth={1.5} />
      {has(labels, v) && (
        <text x={x} y={y + 41} textAnchor="middle" fontFamily={FONT} fontSize={28} fill={INK}>
          {v}
        </text>
      )}
    </g>
  );
};

const yTick = (labels: number[]) => (p: any) => {
  const { x, y, payload } = p;
  const v = Number(payload.value);
  const lab = has(labels, v);
  const len = lab ? 11 : 6;
  return (
    <g>
      <line x1={x} x2={x + len} y1={y} y2={y} stroke={FRAME} strokeWidth={1.5} />
      <line x1={x + PLOT_W - len} x2={x + PLOT_W} y1={y} y2={y} stroke={FRAME} strokeWidth={1.5} />
      {lab && (
        <text x={x - 17} y={y + 10} textAnchor="end" fontFamily={FONT} fontSize={27} fill={INK}>
          {v}
        </text>
      )}
    </g>
  );
};

const diamond = (p: any) => (
  <polygon
    points={`${p.cx},${p.cy - 7} ${p.cx + 5},${p.cy} ${p.cx},${p.cy + 7} ${p.cx - 5},${p.cy}`}
    fill="none"
    stroke={GREEN}
    strokeWidth={1.3}
  />
);
const square = (p: any) => (
  <rect x={p.cx - 4} y={p.cy - 4} width={8} height={8} fill="none" stroke={RED} strokeWidth={1.3} />
);
const circle = (p: any) => (
  <circle cx={p.cx} cy={p.cy} r={4.5} fill="none" stroke={BLUE} strokeWidth={1.5} />
);

const asMain = (rows: Row[]) => rows.map(([t, m, , e]) => ({ t, m, e }));
const asRes = (rows: Row[]) => rows.map(([t, , r, e]) => ({ t, m: r, e }));
const asModel = (pts: Pt[]) => pts.map(([t, m]) => ({ t, m }));

interface PanelCfg {
  top: number;
  mainH: number;
  resH: number;
  xDomain: [number, number];
  xStepMain: number;
  xStepRes: number;
  xMajor: number;
  xLabels: number[];
  yDomain: [number, number];
  yStep: number;
  yLabels: number[];
  rDomain: [number, number];
  rStep: number;
  rLabels: number[];
  moa: Row[];
  ogle: Row[];
  blue: Row[];
  single: Pt[];
  binary: Pt[];
  binaryDash: string;
  names: string[];
}

const PANELS: PanelCfg[] = [
  {
    top: 1, mainH: 247, resH: 136, xDomain: [5660, 5680], xStepMain: 0.5, xStepRes: 0.5,
    xMajor: 5, xLabels: P1_X_LABELS, yDomain: [14.5, 18], yStep: 0.5, yLabels: P1_Y_LABELS,
    rDomain: [-1.5, 1], rStep: 0.5, rLabels: P1_R_LABELS, moa: P1_MOA, ogle: P1_OGLE,
    blue: P1_BLUE, single: P1_SINGLE, binary: P1_BINARY, binaryDash: "10 4 3 4",
    names: ["#8", "OGLE-11-0172", "MOA-11-104"],
  },
  {
    top: 480, mainH: 246, resH: 137, xDomain: [5620, 5730], xStepMain: 4, xStepRes: 4,
    xMajor: 20, xLabels: P2_X_LABELS, yDomain: [15, 18.47], yStep: 0.5, yLabels: P2_Y_LABELS,
    rDomain: [-2.5, 1], rStep: 0.5, rLabels: P2_R_LABELS, moa: P2_MOA, ogle: P2_OGLE,
    blue: P2_BLUE, single: P2_SINGLE, binary: P2_BINARY, binaryDash: "",
    names: ["#10", "OGLE-11-0235", "MOA-11-107"],
  },
  {
    top: 959, mainH: 247, resH: 136, xDomain: [5700, 5825], xStepMain: 4, xStepRes: 4,
    xMajor: 20, xLabels: P3_X_LABELS, yDomain: [14.9, 17.17], yStep: 0.25, yLabels: P3_Y_LABELS,
    rDomain: [-1, 0.5], rStep: 0.25, rLabels: P3_R_LABELS, moa: P3_MOA, ogle: P3_OGLE,
    blue: P3_BLUE, single: P3_SINGLE, binary: P3_BINARY, binaryDash: "10 4 3 4",
    names: ["#13", "OGLE-11-0265", "MOA-11-197"],
  },
  {
    top: 1438, mainH: 243, resH: 136, xDomain: [5723, 5727], xStepMain: 0.125, xStepRes: 0.1,
    xMajor: 0.5, xLabels: P4_X_LABELS, yDomain: [14.8, 19], yStep: 0.5, yLabels: P4_Y_LABELS,
    rDomain: [-1.5, 1], rStep: 0.5, rLabels: P4_R_LABELS, moa: P4_MOA, ogle: P4_OGLE,
    blue: P4_BLUE, single: P4_SINGLE, binary: P4_BINARY, binaryDash: "10 4 3 4",
    names: ["#27", "OGLE-11-0481", "MOA-11-217"],
  },
];

// vertical title reading bottom-to-top
const rotTitle = (text: string, cx: number, cy: number) => (
  <div
    style={{
      position: "absolute",
      left: cx - 20,
      top: cy - 110,
      width: 40,
      height: 220,
      lineHeight: "40px",
      textAlign: "center",
      fontSize: 31,
      color: INK,
      writingMode: "vertical-rl",
      transform: "rotate(180deg)",
      whiteSpace: "nowrap",
    }}
  >
    {text}
  </div>
);

const frame = (top: number, h: number) => (
  <div
    style={{
      position: "absolute",
      left: PLOT_L - 1,
      top: top - 1,
      width: PLOT_W + 2,
      height: h + 2,
      border: `2px solid ${FRAME}`,
      boxSizing: "border-box",
      pointerEvents: "none",
    }}
  />
);

function Panel(c: PanelCfg) {
  const resTop = c.top + c.mainH;
  const padTop = Math.min(MAIN_PAD_TOP, c.top);
  return (
    <>
      <div style={{ position: "absolute", left: 0, top: c.top - padTop }}>
        <ComposedChart
          width={W} height={padTop + c.mainH + MAIN_AXIS_H}
          margin={{ top: padTop, right: W - PLOT_R, bottom: 0, left: 0 }}
        >
          <XAxis
            type="number" dataKey="t" domain={c.xDomain} allowDataOverflow
            ticks={ticksIn(c.xDomain[0], c.xDomain[1], c.xStepMain)} interval={0}
            tick={xTick(c.mainH, c.xMajor, [])} tickLine={false} axisLine={false}
            height={MAIN_AXIS_H} tickSize={0} tickMargin={0}
          />
          <YAxis
            type="number" dataKey="m" domain={c.yDomain} reversed allowDataOverflow
            ticks={ticksIn(c.yDomain[0], c.yDomain[1], c.yStep)} interval={0}
            tick={yTick(c.yLabels)} tickLine={false} axisLine={false}
            width={PLOT_L} tickSize={0} tickMargin={0}
          />
          <Scatter data={asMain(c.moa)} dataKey="m" shape={diamond} isAnimationActive={false}>
            <ErrorBar dataKey="e" direction="y" width={0} stroke={GREEN} strokeWidth={1.3} />
          </Scatter>
          <Scatter data={asMain(c.ogle)} dataKey="m" shape={square} isAnimationActive={false}>
            <ErrorBar dataKey="e" direction="y" width={0} stroke={RED} strokeWidth={1.3} />
          </Scatter>
          <Scatter data={asMain(c.blue)} dataKey="m" shape={circle} isAnimationActive={false}>
            <ErrorBar dataKey="e" direction="y" width={0} stroke={BLUE} strokeWidth={1.2} />
          </Scatter>
          <Line
            data={asModel(c.single)} dataKey="m" type="linear" stroke="#000" strokeWidth={1.5}
            dot={false} activeDot={false} isAnimationActive={false}
          />
          <Line
            data={asModel(c.binary)} dataKey="m" type="linear" stroke={MAGENTA} strokeWidth={1.8}
            strokeDasharray={c.binaryDash || undefined} dot={false} activeDot={false}
            isAnimationActive={false}
          />
        </ComposedChart>
      </div>
      <div style={{ position: "absolute", left: 0, top: resTop }}>
        <ComposedChart
          width={W} height={c.resH + RES_AXIS_H}
          margin={{ top: 0, right: W - PLOT_R, bottom: 0, left: 0 }}
        >
          <XAxis
            type="number" dataKey="t" domain={c.xDomain} allowDataOverflow
            ticks={ticksIn(c.xDomain[0], c.xDomain[1], c.xStepRes)} interval={0}
            tick={xTick(c.resH, c.xMajor, c.xLabels)} tickLine={false} axisLine={false}
            height={RES_AXIS_H} tickSize={0} tickMargin={0}
          />
          <YAxis
            type="number" dataKey="m" domain={c.rDomain} reversed allowDataOverflow
            ticks={ticksIn(c.rDomain[0], c.rDomain[1], c.rStep)} interval={0}
            tick={yTick(c.rLabels)} tickLine={false} axisLine={false}
            width={PLOT_L} tickSize={0} tickMargin={0}
          />
          <ReferenceLine y={0} stroke="#000" strokeWidth={1.5} />
          <Scatter data={asRes(c.moa)} dataKey="m" shape={diamond} isAnimationActive={false}>
            <ErrorBar dataKey="e" direction="y" width={0} stroke={GREEN} strokeWidth={1.3} />
          </Scatter>
          <Scatter data={asRes(c.ogle)} dataKey="m" shape={square} isAnimationActive={false}>
            <ErrorBar dataKey="e" direction="y" width={0} stroke={RED} strokeWidth={1.3} />
          </Scatter>
          <Scatter data={asRes(c.blue)} dataKey="m" shape={circle} isAnimationActive={false}>
            <ErrorBar dataKey="e" direction="y" width={0} stroke={BLUE} strokeWidth={1.2} />
          </Scatter>
        </ComposedChart>
      </div>
      {frame(c.top, c.mainH)}
      {frame(resTop, c.resH)}
      {rotTitle("I-mag", 18, c.top + c.mainH / 2 - 12)}
      {rotTitle("residuals", 17, resTop + c.resH / 2 - 5)}
      <div
        style={{
          position: "absolute",
          left: 189,
          top: c.top + 47 - 14.5,
          fontSize: 25,
          lineHeight: "29px",
          color: "#111",
          fontFamily: FONT,
          whiteSpace: "nowrap",
        }}
      >
        {c.names.map((n) => (
          <div key={n}>{n}</div>
        ))}
      </div>
    </>
  );
}

export default function App() {
  return (
    <div
      style={{
        position: "absolute",
        left: 0,
        top: 0,
        width: W,
        height: 1898,
        overflow: "hidden",
        background: "#fff",
        fontFamily: FONT,
      }}
    >
      {PANELS.map((c) => (
        <Panel key={c.names[0]} {...c} />
      ))}
      <div
        style={{
          position: "absolute",
          left: 400,
          top: 1862,
          width: 400,
          height: 36,
          lineHeight: "36px",
          textAlign: "center",
          fontSize: 32,
          color: INK,
        }}
      >
        HJD-2450000
      </div>
    </div>
  );
}
